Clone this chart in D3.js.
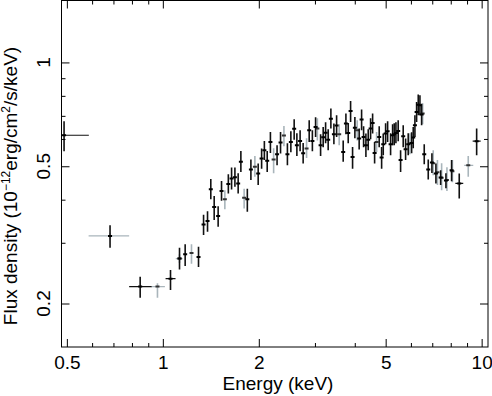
<!DOCTYPE html>
<html>
<head>
<meta charset="utf-8">
<script src="https://cdn.jsdelivr.net/npm/d3@7"></script>
<style>
  body { margin: 0; background: #fff; }
  svg { display: block; }
  text { font-family: "Liberation Sans", Arial, Helvetica, sans-serif; }
</style>
</head>
<body>
<svg id="chart" width="492" height="396"></svg>
<script>
// black data set: energy (keV), flux, flux low/high, optional energy bin edges
const blackE = [0.490, 0.683, 0.849, 1.057, 1.128, 1.175, 1.294, 1.342, 1.381, 1.414,
  1.449, 1.491, 1.528, 1.605, 1.643, 1.683, 1.723, 1.757, 1.841, 1.889,
  1.991, 2.041, 2.082, 2.125, 2.175, 2.282, 2.340, 2.459, 2.521, 2.582,
  2.633, 2.695, 2.755, 2.878, 2.945, 3.014, 3.125, 3.184, 3.240, 3.301,
  3.366, 3.440, 3.508, 3.679, 3.752, 3.815, 3.881, 3.937, 4.003, 4.129,
  4.202, 4.263, 4.335, 4.408, 4.484, 4.550, 4.616, 4.772, 4.856, 4.913,
  4.998, 5.071, 5.181, 5.257, 5.318, 5.384, 5.473, 5.569, 5.675, 5.774,
  5.884, 6.031, 6.101, 6.176, 6.252, 6.326, 6.404, 6.482, 6.606, 6.800,
  6.983, 7.188, 7.437, 7.727, 8.050, 8.506, 9.646]
const blackF = [0.615, 0.314, 0.224, 0.236, 0.270, 0.278, 0.273, 0.339, 0.347, 0.429,
  0.381, 0.359, 0.424, 0.444, 0.461, 0.465, 0.446, 0.515, 0.401, 0.489,
  0.476, 0.527, 0.556, 0.519, 0.588, 0.542, 0.586, 0.542, 0.588, 0.642,
  0.575, 0.592, 0.545, 0.636, 0.592, 0.650, 0.575, 0.607, 0.625, 0.597,
  0.687, 0.619, 0.656, 0.550, 0.665, 0.624, 0.723, 0.532, 0.647, 0.602,
  0.683, 0.608, 0.575, 0.597, 0.643, 0.667, 0.546, 0.608, 0.530, 0.579,
  0.622, 0.632, 0.579, 0.615, 0.619, 0.624, 0.633, 0.521, 0.611, 0.560,
  0.579, 0.584, 0.606, 0.657, 0.718, 0.754, 0.751, 0.706, 0.542, 0.489,
  0.513, 0.476, 0.464, 0.455, 0.487, 0.446, 0.591]
const blackLo = [0.553, 0.290, 0.208, 0.219, 0.251, 0.257, 0.255, 0.316, 0.323, 0.401,
  0.349, 0.334, 0.397, 0.417, 0.428, 0.436, 0.417, 0.481, 0.369, 0.456,
  0.441, 0.492, 0.521, 0.481, 0.546, 0.503, 0.544, 0.503, 0.549, 0.597,
  0.535, 0.553, 0.509, 0.588, 0.553, 0.608, 0.535, 0.568, 0.583, 0.556,
  0.643, 0.579, 0.608, 0.515, 0.619, 0.583, 0.672, 0.492, 0.603, 0.559,
  0.636, 0.568, 0.532, 0.556, 0.599, 0.622, 0.509, 0.568, 0.492, 0.538,
  0.579, 0.588, 0.538, 0.575, 0.575, 0.583, 0.591, 0.481, 0.568, 0.521,
  0.538, 0.545, 0.564, 0.608, 0.672, 0.703, 0.703, 0.657, 0.507, 0.458,
  0.478, 0.446, 0.441, 0.432, 0.452, 0.403, 0.538]
const blackHi = [0.675, 0.337, 0.239, 0.250, 0.290, 0.297, 0.292, 0.362, 0.370, 0.459,
  0.410, 0.383, 0.453, 0.474, 0.496, 0.496, 0.477, 0.554, 0.430, 0.523,
  0.509, 0.563, 0.592, 0.554, 0.629, 0.575, 0.629, 0.583, 0.632, 0.684,
  0.623, 0.636, 0.584, 0.680, 0.636, 0.693, 0.619, 0.650, 0.671, 0.640,
  0.735, 0.665, 0.703, 0.594, 0.711, 0.667, 0.773, 0.569, 0.695, 0.643,
  0.730, 0.653, 0.622, 0.640, 0.689, 0.711, 0.588, 0.653, 0.569, 0.622,
  0.666, 0.675, 0.623, 0.662, 0.666, 0.671, 0.680, 0.556, 0.657, 0.602,
  0.623, 0.627, 0.650, 0.703, 0.768, 0.807, 0.803, 0.759, 0.579, 0.523,
  0.545, 0.509, 0.487, 0.477, 0.521, 0.476, 0.643]
const blackBins = [[0, 0.45, 0.586], [2, 0.784, 0.922], [3, 1.020, 1.096],
  [85, 8.271, 8.756], [86, 9.372, 9.929]]

// grey data set
const greyE = [0.683, 0.962, 1.128, 1.230, 1.565, 1.799, 1.944, 2.226, 2.398, 2.824,
  3.053, 3.574, 4.070, 4.683, 5.957, 6.531, 7.049, 7.266, 7.490, 7.783,
  8.097, 9.078]
const greyF = [0.314, 0.224, 0.270, 0.280, 0.401, 0.405, 0.498, 0.523, 0.614, 0.563,
  0.643, 0.619, 0.636, 0.588, 0.582, 0.711, 0.510, 0.480, 0.463, 0.456,
  0.484, 0.503]
const greyLo = [0.307, 0.208, 0.262, 0.261, 0.375, 0.377, 0.466, 0.477, 0.571, 0.528,
  0.594, 0.575, 0.594, 0.550, 0.542, 0.662, 0.471, 0.441, 0.426, 0.424,
  0.449, 0.466]
const greyHi = [0.321, 0.229, 0.278, 0.297, 0.426, 0.430, 0.535, 0.564, 0.654, 0.603,
  0.689, 0.662, 0.680, 0.629, 0.623, 0.761, 0.556, 0.521, 0.510, 0.497,
  0.521, 0.535]
const greyBins = [[0, 0.585, 0.784], [1, 0.917, 1.015], [2, 1.098, 1.153], [21, 8.818, 9.413]]

const xMajor = [0.5, 1, 2, 5, 10]
const xMinor = [0.6, 0.7, 0.8, 0.9, 3, 4, 6, 7, 8, 9]
const yMajor = [0.2, 0.5, 1]
const yMinor = [0.3, 0.4, 0.6, 0.7, 0.8, 0.9]

const plotLeft = 61.5, plotRight = 488, plotTop = 0.5, plotBottom = 347

const svg = d3.select('#chart')

const x = d3.scaleLog().domain([0.481, 10.47]).range([plotLeft, plotRight])
const y = d3.scaleLog().domain([0.1496, 1.512]).range([plotBottom, plotTop])

svg.append('clipPath').attr('id', 'plot-clip')
  .append('rect')
  .attr('x', plotLeft).attr('y', plotTop)
  .attr('width', plotRight - plotLeft).attr('height', plotBottom - plotTop)

const plot = svg.append('g').attr('clip-path', 'url(#plot-clip)')

function drawSeries(E, F, lo, hi, bins, barColor, dotColor) {
  const g = plot.append('g')
  bins.forEach(b => {
    g.append('line')
      .attr('x1', x(b[1])).attr('x2', x(b[2]))
      .attr('y1', y(F[b[0]])).attr('y2', y(F[b[0]]))
      .attr('stroke', barColor).attr('stroke-width', 1.2)
  })
  g.selectAll('line.err')
    .data(E)
    .enter()
    .append('line')
    .attr('class', 'err')
    .attr('x1', d => x(d)).attr('x2', d => x(d))
    .attr('y1', (d, i) => y(hi[i])).attr('y2', (d, i) => y(lo[i]))
    .attr('stroke', barColor)
    .attr('stroke-width', 1.6)
  g.selectAll('line.dot')
    .data(E)
    .enter()
    .append('line')
    .attr('class', 'dot')
    .attr('x1', d => x(d) - 2).attr('x2', d => x(d) + 2)
    .attr('y1', (d, i) => y(F[i])).attr('y2', (d, i) => y(F[i]))
    .attr('stroke', dotColor)
    .attr('stroke-width', 2)
}

drawSeries(greyE, greyF, greyLo, greyHi, greyBins, '#a9b5bb', '#333')
drawSeries(blackE, blackF, blackLo, blackHi, blackBins, '#111', '#000')

// axes, ticks drawn inwards on all four sides
function addAxis(axis, tx, ty) {
  const g = svg.append('g')
    .attr('transform', `translate(${tx},${ty})`)
    .call(axis)
  g.select('.domain').remove()
  g.selectAll('.tick line').attr('stroke', '#000')
  return g
}

const fmt = d => d
addAxis(d3.axisBottom(x).tickValues(xMajor).tickSizeInner(-8).tickSizeOuter(0).tickPadding(9).tickFormat(fmt), 0, plotBottom)
  .selectAll('text').attr('font-size', 19).attr('fill', '#000').attr('font-family', '"Liberation Sans", Arial, sans-serif')
addAxis(d3.axisBottom(x).tickValues(xMinor).tickSizeInner(-4).tickSizeOuter(0).tickFormat(''), 0, plotBottom)
addAxis(d3.axisTop(x).tickValues(xMajor).tickSizeInner(-8).tickSizeOuter(0).tickFormat(''), 0, plotTop)
addAxis(d3.axisTop(x).tickValues(xMinor).tickSizeInner(-4).tickSizeOuter(0).tickFormat(''), 0, plotTop)
addAxis(d3.axisLeft(y).tickValues(yMajor).tickSizeInner(-8).tickSizeOuter(0).tickFormat(''), plotLeft, 0)
addAxis(d3.axisLeft(y).tickValues(yMinor).tickSizeInner(-4).tickSizeOuter(0).tickFormat(''), plotLeft, 0)
addAxis(d3.axisRight(y).tickValues(yMajor).tickSizeInner(-8).tickSizeOuter(0).tickFormat(''), plotRight, 0)
addAxis(d3.axisRight(y).tickValues(yMinor).tickSizeInner(-4).tickSizeOuter(0).tickFormat(''), plotRight, 0)

svg.append('rect')
  .attr('x', plotLeft).attr('y', plotTop)
  .attr('width', plotRight - plotLeft).attr('height', plotBottom - plotTop)
  .attr('fill', 'none').attr('stroke', '#000').attr('stroke-width', 1)

// y tick labels, rotated like the original
svg.selectAll('text.ylab')
  .data(yMajor)
  .enter()
  .append('text')
  .attr('class', 'ylab')
  .attr('transform', d => `translate(50,${y(d)}) rotate(-90)`)
  .attr('text-anchor', 'middle')
  .attr('font-size', 19)
  .text(d => d)

svg.append('text')
  .attr('x', 278).attr('y', 390)
  .attr('text-anchor', 'middle')
  .attr('font-size', 19)
  .text('Energy (keV)')

const ytitle = svg.append('text')
  .attr('transform', 'translate(17,186) rotate(-90)')
  .attr('text-anchor', 'middle')
  .attr('font-size', 19)
ytitle.append('tspan').text('Flux density (10')
ytitle.append('tspan').attr('font-size', 12).attr('dy', -7).text('\u221212')
ytitle.append('tspan').attr('dy', 7).text('erg/cm')
ytitle.append('tspan').attr('font-size', 12).attr('dy', -7).text('2')
ytitle.append('tspan').attr('dy', 7).text('/s/keV)')
</script>
</body>
</html>
